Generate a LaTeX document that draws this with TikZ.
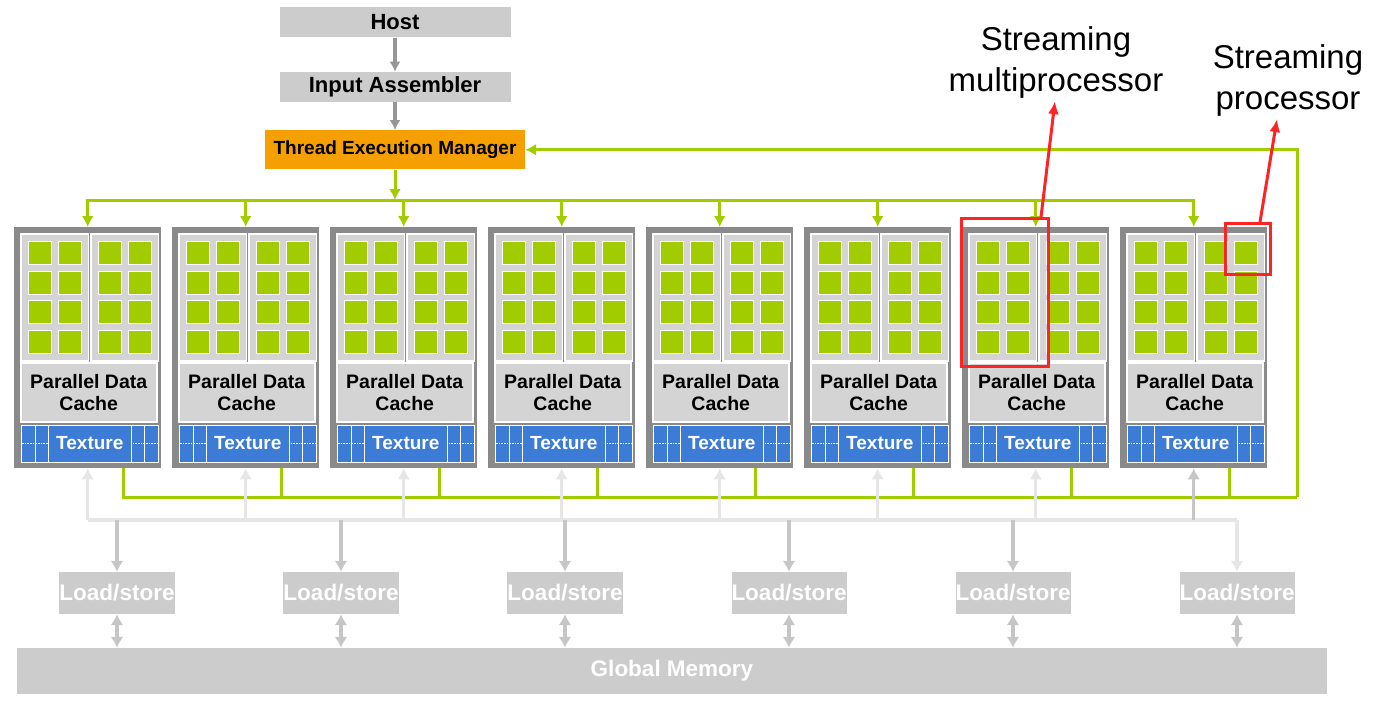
\documentclass[tikz,border=0pt]{standalone}
\usepackage{fontspec}
\setmainfont{Liberation Sans}
\usetikzlibrary{matrix,positioning,arrows.meta}
\definecolor{nvgreen}{RGB}{160,204,0}
\definecolor{nvorange}{RGB}{245,160,0}
\definecolor{smgrey}{RGB}{138,138,138}
\definecolor{panelgrey}{RGB}{212,212,212}
\definecolor{boxgrey}{RGB}{204,204,204}
\definecolor{texblue}{RGB}{60,124,214}
\definecolor{busgrey}{RGB}{230,230,230}
\definecolor{lsgrey}{RGB}{198,198,198}
\definecolor{arrgrey}{RGB}{150,150,150}
\definecolor{annred}{RGB}{255,36,36}
\tikzset{
  topbox/.style={rectangle, fill=boxgrey, minimum width=231pt, minimum height=30pt,
    inner sep=0pt, font=\fontsize{22}{26}\selectfont\bfseries},
  tembox/.style={rectangle, fill=nvorange, minimum width=260pt, minimum height=39pt,
    inner sep=0pt, font=\fontsize{19}{23}\selectfont\bfseries},
  smbox/.style={rectangle, fill=smgrey, minimum width=147pt, minimum height=241pt,
    inner sep=0pt, anchor=north west},
  spmat/.style={
    matrix of nodes, nodes in empty cells, ampersand replacement=\&,
    anchor=north west, fill=panelgrey, draw=white, line width=1.5pt,
    inner sep=7pt, column sep=6pt, row sep=6pt,
    nodes={rectangle, fill=nvgreen, draw=white, line width=0.8pt,
      minimum size=23pt, inner sep=0pt}
  },
  pdcbox/.style={rectangle, fill=panelgrey, draw=white, line width=1.5pt,
    minimum width=136pt, minimum height=59pt, inner sep=0pt, align=center,
    anchor=north west, font=\fontsize{19.5}{22}\selectfont\bfseries},
  texbox/.style={rectangle, fill=texblue, draw=white, line width=0.8pt,
    minimum width=83pt, minimum height=37pt, inner sep=0pt, outer sep=0pt,
    text=white, font=\fontsize{19}{22}\selectfont\bfseries},
  texcell/.style={texbox, minimum width=13.3pt},
  lsbox/.style={rectangle, fill=boxgrey, minimum width=114pt, minimum height=42pt,
    inner sep=0pt, text=white, font=\fontsize{22.5}{26}\selectfont\bfseries},
  gmbox/.style={rectangle, fill=boxgrey, minimum width=1310pt, minimum height=46pt,
    inner sep=0pt, text=white, font=\fontsize{22.5}{26}\selectfont\bfseries},
  grn/.style={draw=nvgreen, line width=3pt},
  grnarr/.style={grn, -{Latex[length=11pt,width=12pt]}},
  hostarr/.style={draw=arrgrey, line width=3.5pt, -{Latex[length=10pt,width=11pt]}},
  bus/.style={draw=#1, line width=3.5pt},
  busarr/.style={bus=#1, -{Latex[length=11pt,width=13pt]}},
  busdbl/.style={bus=#1, {Latex[length=11pt,width=13pt]}-{Latex[length=11pt,width=13pt]}},
  redbox/.style={rectangle, draw=annred, line width=3pt, inner sep=0pt, anchor=north west},
  redarr/.style={draw=annred, line width=3pt, -{Latex[length=13pt,width=11pt]}},
  annot/.style={align=center, inner sep=3pt, font=\fontsize{33}{41}\selectfont}
}
\begin{document}
\begin{tikzpicture}[x=1pt,y=-1pt]
\useasboundingbox (0,0) rectangle (1376,701);

\node[topbox] (host) at (395,22.5) {Host};
\node[topbox, below=34pt of host] (ia) {Input Assembler};
\node[tembox, below=28pt of ia] (tem) {Thread Execution Manager};
\draw[hostarr] (host) -- (ia);
\draw[hostarr] (ia) -- (tem);

\foreach \i in {1,...,8}{
  \pgfmathsetmacro\sx{14+158*(\i-1)}
  \node[smbox] (sm\i) at (\sx,227) {};
  \matrix[spmat] (sm\i-l) at (\sx+6,233) {\& \\ \& \\ \& \\ \& \\};
  \matrix[spmat] (sm\i-r) at (\sx+76,233) {\& \\ \& \\ \& \\ \& \\};
  \node[pdcbox] (pdc\i) at (\sx+6,362) {Parallel Data\\Cache};
  \node[texbox, anchor=north west] (tex\i) at (\sx+34.3,425) {Texture};
  \node[texcell, left=0pt of tex\i] (tex\i-a) {};
  \node[texcell, left=0pt of tex\i-a] (tex\i-b) {};
  \node[texcell, right=0pt of tex\i] (tex\i-c) {};
  \node[texcell, right=0pt of tex\i-c] (tex\i-d) {};
  \draw[white, densely dotted, line width=0.6pt] (tex\i-b.west) -- (tex\i-a.east);
  \draw[white, densely dotted, line width=0.6pt] (tex\i-c.west) -- (tex\i-d.east);
}

\coordinate (bus) at (395,200);
\coordinate (ret) at (1297,497);
\draw[grnarr] (tem) -- (bus);
\foreach \i in {1,...,8}{
  \draw[grnarr] (bus) -| (sm\i.north);
  \draw[grn] ([xshift=36pt]sm\i.south) |- (ret);
}
\draw[grnarr] (ret) |- (tem.east);

\node[gmbox] (gm) at (672,671) {Global Memory};
\foreach \j in {1,...,6}{
  \pgfmathsetmacro\lx{117+224*(\j-1)}
  \node[lsbox] (ls\j) at (\lx,593) {Load/store};
}
\coordinate (gbusW) at (87.5,520);
\coordinate (gbusE) at (1237,520);
\draw[bus=busgrey] (gbusW) -- (gbusE);
\foreach \i/\c in {1/busgrey,2/busgrey,3/busgrey,4/busgrey,5/busgrey,6/busgrey,7/busgrey,8/lsgrey}
  \draw[busarr=\c] (sm\i.south |- gbusW) -- (sm\i.south);
\foreach \j/\c in {1/lsgrey,2/lsgrey,3/lsgrey,4/lsgrey,5/lsgrey,6/busgrey}{
  \draw[busarr=\c] (ls\j.north |- gbusW) -- (ls\j.north);
  \draw[busdbl=lsgrey] (ls\j.south) -- (ls\j.south |- gm.north);
}

\node[redbox, minimum width=87pt, minimum height=148pt] (smred) at (960,217) {};
\node[redbox, minimum width=45pt, minimum height=51pt] (spred) at (1224,222) {};
\node[annot] (smlabel) at (1056,62) {Streaming\\multiprocessor};
\node[annot] (splabel) at (1288,80) {Streaming\\processor};
\draw[redarr] ([xshift=-9pt]smred.north east) -- ([xshift=-1pt]smlabel.south);
\draw[redarr] ([xshift=-12pt]spred.north east) -- ([xshift=-11pt]splabel.south);
\end{tikzpicture}
\end{document}
